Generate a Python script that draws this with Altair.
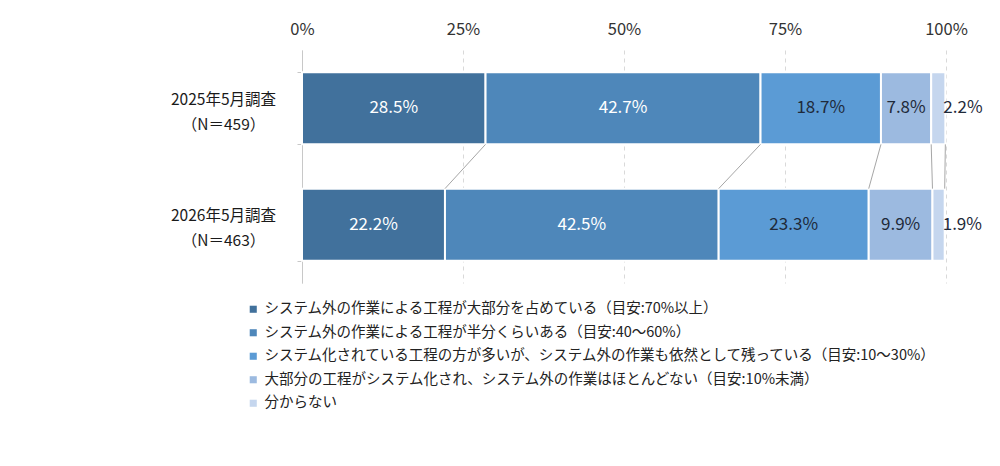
import pandas as pd
import altair as alt

# Data
surveys = ["2025年5月調査|（N＝459）", "2026年5月調査|（N＝463）"]
categories = [
    "システム外の作業による工程が大部分を占めている（目安:70%以上）",
    "システム外の作業による工程が半分くらいある（目安:40～60%）",
    "システム化されている工程の方が多いが、システム外の作業も依然として残っている（目安:10～30%）",
    "大部分の工程がシステム化され、システム外の作業はほとんどない（目安:10%未満）",
    "分からない",
]
values_2025 = [28.5, 42.7, 18.7, 7.8, 2.2]
values_2026 = [22.2, 42.5, 23.3, 9.9, 1.9]
colors = ["#41719c", "#4e87ba", "#5b9bd5", "#9cbae0", "#c5d6ee"]
text_colors = ["white", "white", "#1f2a3a", "#1f2a3a", "#1f2a3a"]

# Build stacked table
rows = []
cums = {}
for survey, vals in zip(surveys, [values_2025, values_2026]):
    start = 0.0
    cums[survey] = []
    for i, (cat, v) in enumerate(zip(categories, vals)):
        end = start + v
        rows.append({
            "survey": survey, "category": cat, "value": v, "order": i,
            "start": start, "end": end, "mid": (start + end) / 2,
            "label": f"{v:.1f}%", "tcolor": text_colors[i],
        })
        cums[survey].append(end)
        start = end
df = pd.DataFrame(rows)

conn = pd.DataFrame({
    "top": [surveys[0]] * 5,
    "bottom": [surveys[1]] * 5,
    "x_top": cums[surveys[0]],
    "x_bot": cums[surveys[1]],
})

font = "Noto Sans CJK JP"

y_enc = alt.Y(
    "survey:N", sort=surveys, title=None,
    scale=alt.Scale(paddingInner=0.38, paddingOuter=0.19),
    axis=alt.Axis(
        labelExpr="split(datum.label, '|')", labelAlign="center",
        labelPadding=74, labelFontSize=15.5, labelLineHeight=25,
        labelOffset=-9,
        labelColor="#1a1a1a", labelFont=font, tickBand="extent",
        domainColor="#c8c8c8", tickColor="#c8c8c8", tickSize=5,
    ),
)

x_scale = alt.Scale(domain=[0, 100], nice=False)

bars = alt.Chart(df).mark_bar(stroke="white", strokeWidth=2).encode(
    x=alt.X(
        "start:Q", scale=x_scale, title=None,
        axis=alt.Axis(
            orient="top", values=[0, 25, 50, 75, 100],
            labelExpr="datum.value + '%'", labelFontSize=16.5,
            labelColor="#333333", labelFont=font, labelPadding=13,
            labelFlush=False, ticks=False, domain=False, grid=True,
            gridColor="#d9d9d9", gridDash=[4, 4],
        ),
    ),
    x2="end:Q",
    y=y_enc,
    color=alt.Color(
        "category:N", sort=categories,
        scale=alt.Scale(domain=categories, range=colors),
        legend=alt.Legend(
            title=None, orient="none", legendX=-56, legendY=252,
            direction="vertical", symbolType="square", symbolSize=50,
            symbolStrokeWidth=0, labelFontSize=14.5, labelFont=font,
            labelColor="#222222", labelLimit=0, rowPadding=8.5,
            labelOffset=4, padding=0,
        ),
    ),
    order="order:Q",
)

connectors = alt.Chart(conn).mark_rule(color="#a6a6a6", strokeWidth=1).encode(
    x=alt.X("x_top:Q", scale=x_scale),
    x2="x_bot:Q",
    y=alt.Y("top:N", sort=surveys, bandPosition=1),
    y2=alt.Y2("bottom:N", bandPosition=0),
)

main_labels = alt.Chart(df[df["order"] < 4]).mark_text(
    fontSize=17, font=font
).encode(
    x=alt.X("mid:Q", scale=x_scale),
    y=alt.Y("survey:N", sort=surveys),
    text="label:N",
    color=alt.Color("tcolor:N", scale=None),
)

end_labels = alt.Chart(df[df["order"] == 4]).mark_text(
    fontSize=17, font=font, align="left", dx=-2, color="#1f2a3a"
).encode(
    x=alt.X("end:Q", scale=x_scale),
    y=alt.Y("survey:N", sort=surveys),
    text="label:N",
)

chart = alt.layer(bars, connectors, main_labels, end_labels).properties(
    width=644,
    height=233,
    autosize=alt.AutoSizeParams(type="none"),
    padding={"left": 294, "top": 42, "right": 46, "bottom": 175},
).configure_view(stroke=None)

chart.save("out.html", embed_options={"renderer": "svg", "actions": False})
